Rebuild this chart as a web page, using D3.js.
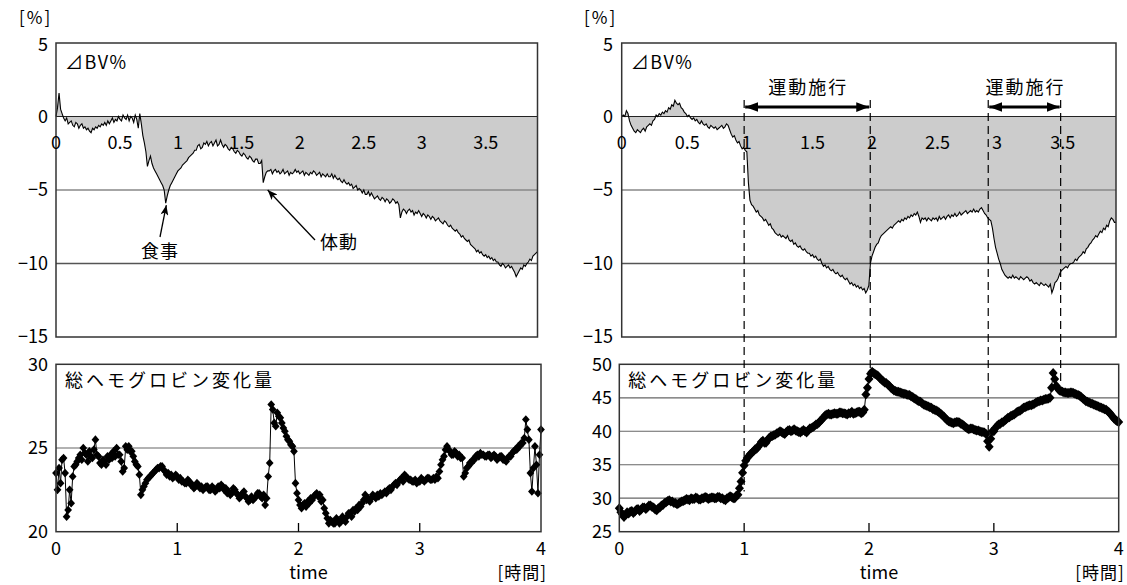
<!DOCTYPE html>
<html><head><meta charset="utf-8">
<script src="https://cdn.jsdelivr.net/npm/d3@7"></script>
<style>
body{margin:0;background:#fff}
svg{display:block}
text{font-family:"Noto Sans CJK JP","Liberation Sans",sans-serif;fill:#000}
</style>
</head><body><svg id="c" width="1127" height="585"></svg>
<script>
// ---------------- DATA ----------------
const tStep = 0.0125; // hours between samples
const bvLeft = [
 0.0,0.6,1.6,0.5,0.2,-0.1,-0.3,-0.1,-0.5,-0.4,-0.3,-0.6,-0.7,-0.4,-0.5,-0.8,-0.6,-0.5,-0.8,-0.7,
 -0.9,-0.8,-1.0,-1.1,-0.8,-0.9,-0.7,-0.8,-0.6,-0.7,-0.5,-0.6,-0.4,-0.6,-0.3,-0.5,-0.3,-0.1,-0.4,-0.2,
 -0.3,0.0,-0.2,-0.3,0.1,-0.1,-0.2,0.1,-0.3,0.0,-0.1,-0.4,0.1,-0.2,-0.8,0.2,-0.5,-1.3,-1.8,-2.4,
 -3.4,-3.0,-2.7,-3.2,-3.5,-3.7,-3.9,-4.1,-4.3,-4.5,-4.7,-5.0,-5.9,-5.4,-5.0,-4.7,-4.5,-4.3,-4.1,-3.9,
 -3.7,-3.6,-3.5,-3.3,-3.2,-3.1,-3.0,-2.8,-2.7,-2.6,-2.5,-2.3,-2.3,-2.0,-1.9,-2.2,-2.1,-1.8,-1.9,-1.7,
 -2.0,-1.8,-1.7,-2.0,-1.8,-1.6,-2.0,-1.9,-1.6,-1.9,-2.1,-1.9,-2.0,-2.2,-2.3,-2.1,-2.2,-2.4,-2.5,-2.3,
 -2.4,-2.6,-2.7,-2.5,-2.6,-2.8,-2.9,-2.7,-2.8,-3.0,-3.1,-2.9,-2.9,-3.2,-3.2,-3.0,-4.5,-4.1,-3.8,-3.7,
 -3.7,-3.6,-3.9,-3.7,-3.6,-3.8,-3.7,-3.9,-3.8,-3.6,-3.9,-3.8,-3.7,-4.0,-3.8,-3.9,-3.8,-3.6,-3.8,-3.7,
 -3.9,-3.8,-3.7,-4.0,-3.8,-3.9,-4.0,-3.8,-3.9,-3.7,-3.8,-4.0,-3.9,-3.8,-4.1,-3.9,-4.0,-4.1,-3.9,-4.1,
 -4.1,-3.9,-4.2,-4.0,-4.2,-4.3,-4.2,-4.4,-4.5,-4.3,-4.5,-4.6,-4.5,-4.7,-4.6,-4.9,-4.8,-4.7,-5.0,-4.9,
 -5.0,-5.2,-5.0,-5.3,-5.3,-5.1,-5.4,-5.2,-5.4,-5.6,-5.5,-5.4,-5.6,-5.7,-5.5,-5.6,-5.8,-5.6,-5.7,-5.9,
 -5.8,-5.6,-5.7,-5.9,-5.8,-6.0,-6.9,-6.5,-6.3,-6.4,-6.6,-6.4,-6.3,-6.5,-6.4,-6.7,-6.5,-6.6,-6.4,-6.6,
 -6.8,-6.6,-6.7,-6.9,-6.7,-6.8,-7.0,-6.8,-6.9,-7.1,-7.0,-6.9,-7.1,-7.2,-7.3,-7.1,-7.2,-7.4,-7.5,-7.4,
 -7.6,-7.7,-7.8,-7.7,-7.9,-8.0,-8.2,-8.1,-8.3,-8.4,-8.5,-8.4,-8.7,-8.8,-8.9,-9.0,-9.2,-9.1,-9.3,-9.2,
 -9.4,-9.5,-9.4,-9.6,-9.5,-9.7,-9.6,-9.8,-9.7,-9.9,-9.9,-10.1,-10.2,-10.0,-10.1,-10.3,-10.2,-10.1,-10.3,-10.2,
 -10.4,-10.6,-10.9,-10.7,-10.5,-10.3,-10.4,-10.1,-10.2,-10.0,-9.9,-9.7,-9.8,-9.5,-9.4,-9.3,-9.2];
const bvRight = [
 0.0,0.1,0.0,0.4,0.2,-0.3,-0.6,-0.8,-1.0,-1.1,-0.9,-1.0,-1.1,-0.9,-0.8,-1.0,-0.7,-0.6,-0.5,-0.6,
 -0.3,-0.2,0.1,0.0,0.2,0.1,0.3,0.2,0.4,0.3,0.6,0.5,0.8,0.7,1.1,0.9,0.8,0.9,0.6,0.5,
 0.3,0.2,0.0,0.1,-0.1,-0.2,-0.1,-0.3,-0.2,-0.4,-0.5,-0.3,-0.5,-0.6,-0.5,-0.7,-0.8,-0.6,-0.7,-0.8,
 -0.7,-0.9,-0.8,-0.7,-0.6,-0.8,-0.7,-0.5,-0.6,-0.9,-1.2,-1.4,-1.3,-1.6,-1.8,-1.7,-2.0,-2.2,-2.1,-2.3,
 -2.4,-4.5,-5.7,-6.0,-6.1,-6.3,-6.5,-6.4,-6.7,-6.8,-6.9,-7.1,-7.0,-7.2,-7.4,-7.3,-7.6,-7.7,-7.9,-8.0,
 -8.1,-8.0,-8.2,-8.1,-8.2,-8.3,-8.1,-8.4,-8.5,-8.4,-8.7,-8.6,-8.8,-8.9,-8.8,-9.0,-9.1,-9.0,-9.2,-9.3,
 -9.3,-9.5,-9.4,-9.6,-9.5,-9.7,-9.8,-9.7,-10.0,-10.2,-10.1,-10.3,-10.2,-10.4,-10.5,-10.4,-10.6,-10.7,-10.6,-10.8,
 -10.9,-10.8,-11.0,-11.1,-11.0,-11.2,-11.4,-11.3,-11.5,-11.4,-11.6,-11.5,-11.7,-11.6,-11.8,-11.7,-12.0,-11.8,-11.5,-10.0,
 -9.5,-9.2,-8.9,-8.7,-8.6,-8.3,-8.1,-8.0,-7.9,-7.8,-7.7,-7.6,-7.5,-7.6,-7.4,-7.3,-7.2,-7.1,-7.2,-7.0,
 -7.1,-6.9,-7.0,-6.8,-6.9,-6.7,-6.8,-6.6,-6.7,-6.5,-6.8,-7.2,-6.9,-7.0,-6.9,-7.1,-6.9,-7.0,-7.1,-6.9,
 -7.0,-6.9,-7.1,-6.8,-7.0,-6.9,-6.8,-7.0,-6.8,-6.7,-6.9,-6.7,-6.8,-6.6,-6.8,-6.7,-6.5,-6.7,-6.6,-6.5,
 -6.4,-6.6,-6.5,-6.4,-6.5,-6.3,-6.5,-6.4,-6.5,-6.3,-6.2,-6.4,-6.6,-6.7,-6.9,-7.0,-7.1,-7.6,-8.3,-8.9,
 -9.3,-9.7,-10.0,-10.4,-10.6,-10.8,-10.9,-11.0,-10.9,-11.0,-10.8,-11.0,-10.9,-11.0,-11.1,-10.9,-11.0,-11.1,-11.0,-10.9,
 -11.0,-11.2,-11.1,-11.3,-11.4,-11.3,-11.4,-11.5,-11.3,-11.4,-11.5,-11.4,-11.5,-11.6,-11.4,-12.0,-11.7,-11.3,-11.2,-11.0,
 -10.7,-10.5,-10.4,-10.3,-10.2,-10.3,-10.1,-10.0,-10.0,-9.9,-9.7,-9.8,-9.6,-9.5,-9.4,-9.2,-9.3,-9.0,-8.9,-8.7,
 -8.6,-8.4,-8.3,-8.1,-8.2,-8.0,-7.8,-7.9,-7.6,-7.7,-7.4,-7.5,-7.1,-6.9,-7.0,-7.2,-7.2];
const hbLeft = [
 23.5,22.5,23.8,22.9,24.3,24.4,23.5,20.9,21.3,22.5,21.7,23.3,23.9,24.0,24.2,24.4,24.6,24.3,25.0,24.7,
 24.6,24.2,24.8,24.5,24.4,24.9,25.5,24.6,24.5,24.1,24.0,24.3,24.2,24.0,24.5,24.3,24.6,24.4,24.8,24.5,
 25.0,24.6,24.6,24.2,23.6,23.8,25.1,24.9,25.1,24.8,24.8,24.5,24.2,24.0,23.9,23.4,22.2,22.5,22.7,22.9,
 23.1,23.2,23.3,23.4,23.5,23.6,23.7,23.8,23.8,23.9,23.9,23.7,23.6,23.4,23.5,23.3,23.4,23.2,23.3,23.4,
 23.3,23.1,23.2,23.0,23.0,22.9,22.9,23.1,23.0,22.8,22.8,22.6,22.7,22.9,22.8,22.6,22.7,22.5,22.6,22.7,
 22.7,22.5,22.5,22.7,22.6,22.4,22.5,22.7,22.6,22.8,22.7,22.5,22.6,22.3,22.4,22.2,22.3,22.6,22.5,22.3,
 22.2,22.0,22.1,22.3,22.4,22.1,22.0,21.8,21.9,22.1,21.9,22.0,22.1,22.3,22.3,22.1,22.0,22.2,21.6,22.0,
 23.3,24.1,27.6,27.3,26.5,26.3,27.1,26.9,26.8,26.5,26.2,26.0,25.7,25.5,25.4,25.2,25.1,24.8,22.9,22.3,
 21.9,21.6,21.4,21.6,21.7,21.5,21.8,21.7,22.0,21.9,22.1,22.2,22.3,22.1,22.2,21.8,21.9,21.4,21.1,20.8,
 20.5,20.7,20.6,20.5,20.5,20.8,20.7,20.5,20.6,20.9,20.7,20.6,20.9,21.1,21.1,20.9,21.3,21.2,21.4,21.3,
 21.6,21.5,21.7,21.9,22.2,21.9,22.0,21.8,22.0,22.2,22.1,22.0,22.2,22.1,22.3,22.2,22.3,22.4,22.3,22.5,
 22.6,22.5,22.7,22.8,22.9,22.8,23.0,23.1,23.2,23.0,23.4,23.3,23.2,23.1,23.1,23.0,23.0,23.1,22.9,23.0,
 23.0,23.2,23.1,23.0,23.1,23.2,23.2,23.1,23.1,23.2,23.1,23.3,23.2,23.6,24.0,24.3,24.5,24.9,25.1,24.9,
 24.8,24.6,24.6,24.8,24.7,24.5,24.6,24.4,24.4,23.3,23.5,23.8,23.9,24.1,24.1,24.3,24.3,24.5,24.6,24.5,
 24.7,24.6,24.6,24.5,24.5,24.6,24.6,24.4,24.5,24.6,24.5,24.3,24.4,24.5,24.5,24.3,24.3,24.2,24.4,24.5,
 24.5,24.7,24.8,24.9,24.9,25.1,25.1,25.3,25.3,25.6,26.7,26.1,25.5,23.5,22.4,23.8,25.1,24.0,22.3,24.6,26.1];
const hbRight = [
 28.5,27.9,27.6,27.2,27.5,27.9,27.7,28.0,28.1,27.8,28.0,28.3,28.4,28.1,28.3,28.6,28.6,28.4,28.6,28.9,
 28.9,28.7,28.6,28.3,28.2,28.5,28.6,28.9,29.0,29.3,29.4,29.6,29.7,29.5,29.5,29.3,29.3,29.1,29.2,29.4,
 29.5,29.6,29.7,29.9,29.8,29.7,30.0,29.9,29.9,30.1,30.0,29.8,29.8,30.0,30.0,30.2,30.1,29.9,30.0,30.1,
 30.1,30.0,30.0,30.2,30.2,30.0,30.0,29.8,29.7,30.0,30.1,30.3,30.2,30.0,30.0,30.4,30.5,31.5,32.5,33.8,
 34.9,35.6,36.0,36.3,36.6,36.8,37.0,37.3,37.4,37.7,38.0,38.4,38.6,38.3,38.3,38.7,39.0,39.2,39.3,39.4,
 39.5,39.7,39.8,40.0,39.9,39.7,39.6,39.9,40.1,40.2,40.0,40.1,40.3,40.1,40.0,39.9,39.8,40.0,40.2,40.0,
 39.8,40.1,40.4,40.5,40.6,40.8,41.0,41.1,41.3,41.6,41.8,42.1,42.4,42.5,42.6,42.5,42.5,42.6,42.7,42.6,
 42.6,42.8,42.8,42.7,42.7,42.6,42.5,42.7,42.7,42.9,42.6,42.7,42.8,42.9,42.9,42.7,42.8,43.2,45.5,46.5,
 47.8,48.6,48.9,48.7,48.5,48.4,48.2,47.9,47.7,47.5,47.3,47.2,47.0,46.8,46.5,46.3,46.1,46.0,45.9,45.9,
 45.8,45.7,45.6,45.6,45.5,45.4,45.4,45.2,45.1,44.9,44.8,44.6,44.5,44.4,44.2,44.0,43.9,43.8,43.7,43.6,
 43.5,43.3,43.2,43.1,43.0,42.8,42.6,42.4,42.2,41.9,41.7,41.5,41.4,41.3,41.2,41.3,41.4,41.4,41.3,41.1,
 41.0,40.8,40.6,40.4,40.3,40.4,40.4,40.3,40.2,40.1,40.1,40.0,39.9,39.9,39.8,39.6,38.5,37.7,38.9,40.0,
 40.0,40.5,40.8,41.0,41.1,41.3,41.4,41.6,41.8,42.0,42.1,42.3,42.4,42.5,42.7,42.9,43.0,43.1,43.3,43.5,
 43.6,43.7,43.8,43.9,43.9,44.0,44.1,44.3,44.4,44.5,44.6,44.6,44.7,44.8,44.8,44.9,45.0,46.5,48.7,47.8,
 46.8,46.4,46.1,46.0,45.9,45.8,45.8,45.7,45.7,45.8,45.8,45.7,45.6,45.5,45.4,45.3,45.1,44.9,44.7,44.5,
 44.4,44.3,44.2,44.1,44.0,43.9,43.8,43.7,43.6,43.5,43.4,43.3,43.2,43.0,42.8,42.5,42.2,41.9,41.7,41.5,41.4];

const bvYTicks = [5, 0, -5, -10, -15];
const bvYLabels = ["5", "0", "\u22125", "\u221210", "\u221215"];
const bvGrid = [-5, -10];
const topXTicks = [0, 0.5, 1, 1.5, 2, 2.5, 3, 3.5];
const topXLabels = ["0", "0.5", "1", "1.5", "2", "2.5", "3", "3.5"];
const botXTicks = [0, 1, 2, 3, 4];
const hbLeftYTicks = [30, 25, 20];
const hbLeftGrid = [25];
const hbRightYTicks = [50, 45, 40, 35, 30, 25];
const hbRightGrid = [45, 40, 35, 30];
const exerciseTimes = [1.0, 2.01, 2.955, 3.535];
const exerciseEndHb = [31.0, 49.0, 39.5, 47.3];
const exerciseSpans = [[1.0, 2.01], [2.955, 3.535]];
const annotLeft = [
  {label: "食事", t: 0.905, v: -5.9},
  {label: "体動", t: 1.72, v: -4.8}
];

// ---------------- DRAW ----------------
const svg = d3.select("#c");
const defs = svg.append("defs");
defs.append("marker").attr("id","ahThin").attr("viewBox","0 0 10 8")
  .attr("refX",10).attr("refY",4).attr("markerWidth",11).attr("markerHeight",8)
  .attr("markerUnits","userSpaceOnUse").attr("orient","auto-start-reverse")
  .append("path").attr("d","M0,0 L10,4 L0,8 L2.5,4 Z").attr("fill","#000");
defs.append("marker").attr("id","ahThick").attr("viewBox","0 0 12 9")
  .attr("refX",12).attr("refY",4.5).attr("markerWidth",13).attr("markerHeight",10)
  .attr("markerUnits","userSpaceOnUse").attr("orient","auto-start-reverse")
  .append("path").attr("d","M0,0 L12,4.5 L0,9 Z").attr("fill","#000");

const times = arr => arr.map((v,i)=>i*tStep);

function bvPanel(data, x0, x1, labelX0) {
  const x = d3.scaleLinear().domain([0, 3.95]).range([x0, x1]);
  const y = d3.scaleLinear().domain([-15, 5]).range([337, 43]);
  const g = svg.append("g");
  const ts = times(data);
  const pts = data.map((v,i)=>[ts[i], v]);
  g.append("path").datum(pts)
    .attr("d", d3.area().x(d=>x(d[0])).y0(y(0)).y1(d=>y(d[1])))
    .attr("fill","#cccccc");
  g.selectAll(".grid").data(bvGrid).enter().append("line")
    .attr("x1",x0).attr("x2",x1).attr("y1",d=>y(d)).attr("y2",d=>y(d))
    .attr("stroke",(d,i)=>i===0?"#888":"#555").attr("stroke-width",1.3);
  g.append("line").attr("x1",x0).attr("x2",x1).attr("y1",y(0)).attr("y2",y(0))
    .attr("stroke","#222").attr("stroke-width",1.2);
  g.append("path").datum(pts)
    .attr("d", d3.line().x(d=>x(d[0])).y(d=>y(d[1])))
    .attr("fill","none").attr("stroke","#000").attr("stroke-width",1.1);
  g.append("rect").attr("x",x0).attr("y",y(5)).attr("width",x1-x0).attr("height",y(-15)-y(5))
    .attr("fill","none").attr("stroke","#333").attr("stroke-width",1.5);
  g.selectAll(".yl").data(bvYTicks).enter().append("text")
    .attr("x",labelX0).attr("y",d=>y(d)+(d===5?2:0)).attr("dy","0.36em")
    .attr("text-anchor","end").attr("font-size",18)
    .text((d,i)=>bvYLabels[i]);
  g.selectAll(".xl").data(topXTicks).enter().append("text")
    .attr("x",d=>x(d)+(d%1?3:0)).attr("y",y(0)+26).attr("dy","0.36em")
    .attr("text-anchor","middle").attr("font-size",18)
    .text((d,i)=>topXLabels[i]);
  g.append("text").attr("x",x0+9).attr("y",y(5)+20).attr("dy","0.36em")
    .attr("font-size",18).attr("letter-spacing",1.5).text("⊿BV%");
  return {x, y};
}

function hbPanel(data, x0, x1, yDom, yTicks, grid, labelX, half) {
  const x = d3.scaleLinear().domain([0, 4]).range([x0, x1]);
  const y = d3.scaleLinear().domain(yDom).range([531.7, 364.3]);
  const g = svg.append("g");
  g.selectAll(".grid").data(grid).enter().append("line")
    .attr("x1",x0).attr("x2",x1).attr("y1",d=>y(d)).attr("y2",d=>y(d))
    .attr("stroke","#666").attr("stroke-width",1.2);
  const ts = times(data);
  const pts = data.map((v,i)=>[ts[i], v]);
  g.append("path").datum(pts)
    .attr("d", d3.line().x(d=>x(d[0])).y(d=>y(d[1])))
    .attr("fill","none").attr("stroke","#000").attr("stroke-width",1);
  const dia = `M0,${-half} L${half*0.9},0 L0,${half} L${-half*0.9},0 Z`;
  g.selectAll(".pt").data(pts).enter().append("path")
    .attr("transform",d=>`translate(${x(d[0])},${y(d[1])})`)
    .attr("d",dia).attr("fill","#000");
  g.append("rect").attr("x",x0).attr("y",364.3).attr("width",x1-x0).attr("height",531.7-364.3)
    .attr("fill","none").attr("stroke","#333").attr("stroke-width",1.5);
  g.selectAll(".tk").data(botXTicks.filter(d=>d>0&&d<4)).enter().append("line")
    .attr("x1",d=>x(d)).attr("x2",d=>x(d)).attr("y1",531.7).attr("y2",523)
    .attr("stroke","#000").attr("stroke-width",1.3);
  g.selectAll(".xl").data(botXTicks).enter().append("text")
    .attr("x",d=>x(d)).attr("y",549).attr("dy","0.36em")
    .attr("text-anchor","middle").attr("font-size",18).text(d=>String(d));
  g.selectAll(".yl").data(yTicks).enter().append("text")
    .attr("x",labelX).attr("y",d=>y(d)).attr("dy","0.36em")
    .attr("text-anchor","end").attr("font-size",18).text(d=>String(d));
  g.append("text").attr("x",x0+9).attr("y",381).attr("dy","0.36em")
    .attr("font-size",18).attr("letter-spacing",3).text("総ヘモグロビン変化量");
  g.append("text").attr("x",(x0+x1)/2+10).attr("y",573).attr("dy","0.36em")
    .attr("text-anchor","middle").attr("font-size",18).text("time");
  g.append("text").attr("x",x1+6).attr("y",573).attr("dy","0.36em")
    .attr("text-anchor","end").attr("font-size",17).attr("letter-spacing",1).text("[時間]");
  return {x, y};
}

// left column
const TL = bvPanel(bvLeft, 56, 537.5, 48);
svg.append("text").attr("x",19).attr("y",18).attr("dy","0.36em").attr("font-size",17)
  .attr("letter-spacing",2).text("[%]");
const BL = hbPanel(hbLeft, 56, 541, [20, 30], hbLeftYTicks, hbLeftGrid, 48, 4.3);

// annotations left
const a0 = annotLeft[0];
svg.append("line").attr("x1",160).attr("y1",237).attr("x2",TL.x(a0.t)).attr("y2",TL.y(a0.v)+2)
  .attr("stroke","#000").attr("stroke-width",1.3).attr("marker-end","url(#ahThin)");
svg.append("text").attr("x",160).attr("y",252).attr("dy","0.36em").attr("text-anchor","middle")
  .attr("font-size",18).attr("letter-spacing",1).text(a0.label);
const a1 = annotLeft[1];
svg.append("line").attr("x1",315).attr("y1",240).attr("x2",TL.x(a1.t)+2).attr("y2",TL.y(a1.v)+3)
  .attr("stroke","#000").attr("stroke-width",1.3).attr("marker-end","url(#ahThin)");
svg.append("text").attr("x",339).attr("y",243).attr("dy","0.36em").attr("text-anchor","middle")
  .attr("font-size",18).attr("letter-spacing",1).text(a1.label);

// right column
const TR = bvPanel(bvRight, 621.7, 1116, 613);
svg.append("text").attr("x",584).attr("y",18).attr("dy","0.36em").attr("font-size",17)
  .attr("letter-spacing",2).text("[%]");
const BR = hbPanel(hbRight, 619.3, 1118.7, [25, 50], hbRightYTicks, hbRightGrid, 612, 5);

// exercise markers
svg.selectAll(".ev").data(exerciseTimes).enter().append("line")
  .attr("x1",d=>BR.x(d)).attr("x2",d=>BR.x(d))
  .attr("y1",100).attr("y2",(d,i)=>BR.y(exerciseEndHb[i]))
  .attr("stroke","#000").attr("stroke-width",1.2).attr("stroke-dasharray","8,5");
exerciseSpans.forEach(s=>{
  svg.append("line").attr("x1",BR.x(s[0])+1).attr("x2",BR.x(s[1])-1).attr("y1",107).attr("y2",107)
    .attr("stroke","#000").attr("stroke-width",3)
    .attr("marker-start","url(#ahThick)").attr("marker-end","url(#ahThick)");
  svg.append("text").attr("x",(BR.x(s[0])+BR.x(s[1]))/2+1).attr("y",88).attr("dy","0.36em")
    .attr("text-anchor","middle").attr("font-size",18).attr("letter-spacing",2).text("運動施行");
});
</script>
</body></html>
